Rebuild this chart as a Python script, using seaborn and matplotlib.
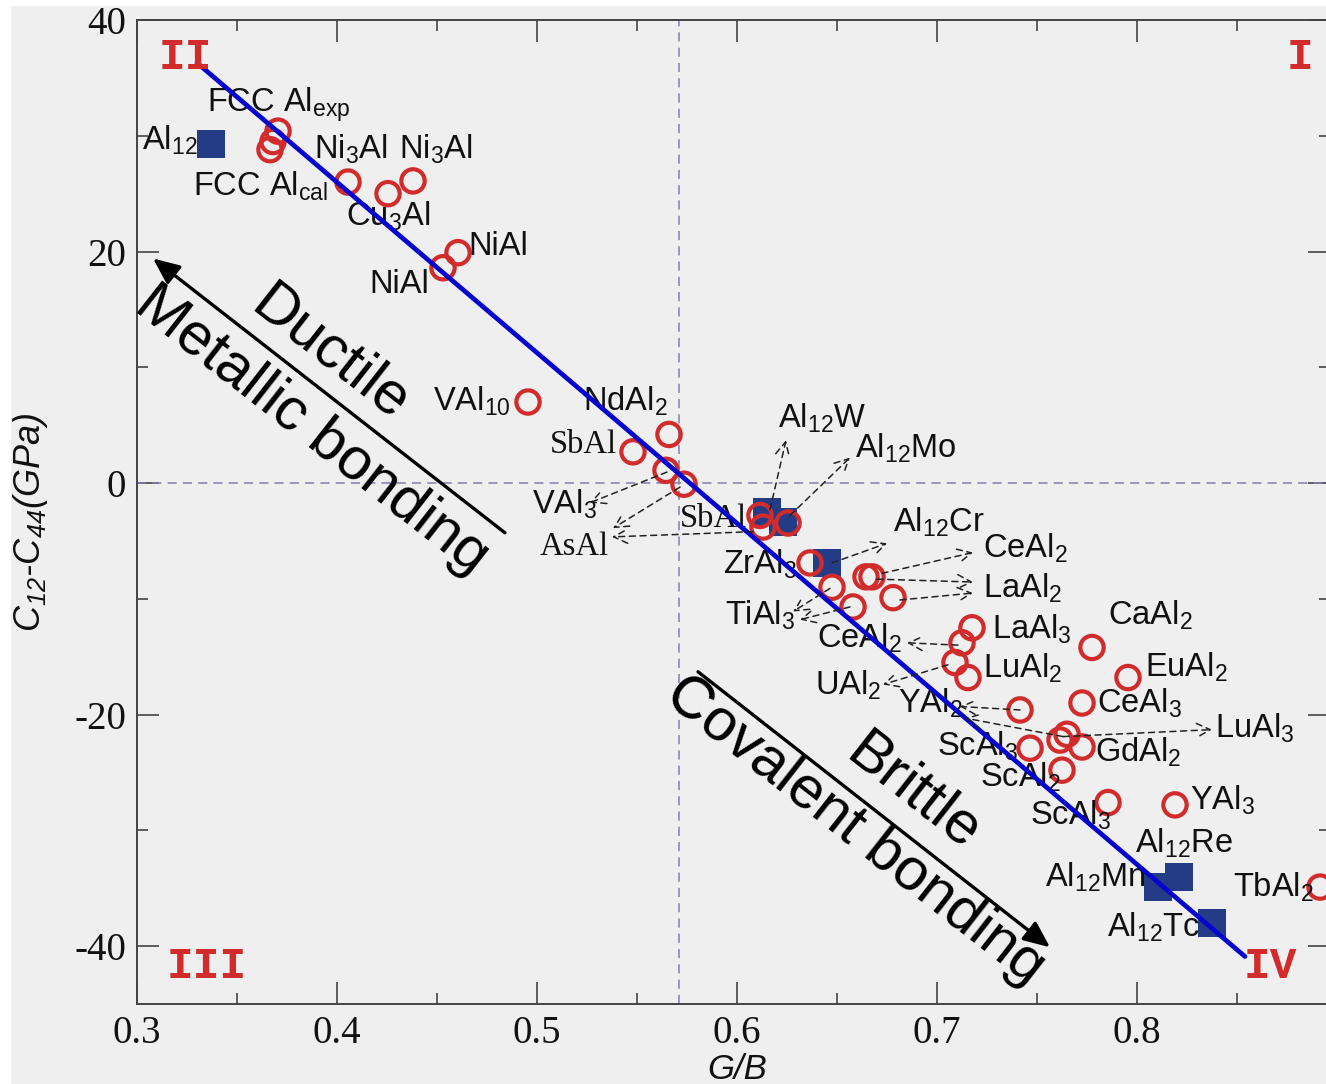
import matplotlib
matplotlib.use("Agg")
import matplotlib.pyplot as plt
import seaborn as sns
import pandas as pd
from matplotlib.ticker import MultipleLocator, FixedLocator
from matplotlib.patches import Rectangle

# ---------------- data ----------------
# red open circles (G/B, C12-C44)
circle_gb = [0.3705, 0.368, 0.3665, 0.4055, 0.4255, 0.438, 0.453, 0.4605,
             0.4955, 0.548, 0.566, 0.5645, 0.5735, 0.6115, 0.613, 0.6255,
             0.6365, 0.6475, 0.658, 0.6645, 0.6675, 0.678, 0.7175, 0.7125,
             0.709, 0.7155, 0.7775, 0.7955, 0.7725, 0.7415, 0.7465, 0.7615,
             0.765, 0.7725, 0.7625, 0.7855, 0.819, 0.8915]
circle_dc = [30.4, 29.5, 28.8, 26.0, 25.0, 26.1, 18.6, 19.9,
             7.0, 2.7, 4.2, 1.1, -0.1, -2.8, -3.8, -3.45,
             -6.9, -9.0, -10.7, -8.1, -8.1, -9.9, -12.5, -13.8,
             -15.5, -16.8, -14.2, -16.8, -19.0, -19.6, -22.9, -22.2,
             -21.7, -22.8, -24.8, -27.6, -27.8, -34.9]
# blue filled squares (Al12X compounds)
square_gb = [0.337, 0.615, 0.623, 0.645, 0.821, 0.8105, 0.8375]
square_dc = [29.25, -2.5, -3.4, -6.9, -34.0, -34.9, -38.0]
# trend line
trend_gb = [0.33, 0.854]
trend_dc = [36.3, -40.9]
# dividers
gb_divider = 0.571
dc_divider = 0.0
x_ticks = [0.3, 0.4, 0.5, 0.6, 0.7, 0.8]
x_ticklabels = ["0.3", "0.4", "0.5", "0.6", "0.7", "0.8"]
y_ticks = [-40, -20, 0, 20, 40]
y_ticklabels = ["-40", "-20", "0", "20", "40"]

# compound labels: (text, x, y, serif?)
labels = [
    ("FCC Al$_{exp}$", 0.335, 32.1, False),
    ("Al$_{12}$", 0.3025, 28.8, False),
    ("FCC Al$_{cal}$", 0.328, 24.85, False),
    ("Ni$_3$Al", 0.3885, 28.0, False),
    ("Ni$_3$Al", 0.431, 28.0, False),
    ("Cu$_3$Al", 0.4045, 22.2, False),
    ("NiAl", 0.4655, 19.7, False),
    ("NiAl", 0.416, 16.4, False),
    ("VAl$_{10}$", 0.448, 6.3, False),
    ("NdAl$_2$", 0.523, 6.3, False),
    ("SbAl", 0.5065, 2.6, True),
    ("VAl$_3$", 0.4975, -2.6, False),
    ("AsAl", 0.5015, -6.2, True),
    ("SbAl", 0.5715, -3.8, True),
    ("Al$_{12}$W", 0.6205, 4.8, False),
    ("Al$_{12}$Mo", 0.659, 2.2, False),
    ("Al$_{12}$Cr", 0.678, -4.2, False),
    ("CeAl$_2$", 0.723, -6.4, False),
    ("ZrAl$_3$", 0.593, -7.8, False),
    ("LaAl$_2$", 0.723, -9.9, False),
    ("TiAl$_3$", 0.594, -12.25, False),
    ("CeAl$_2$", 0.64, -14.2, False),
    ("LaAl$_3$", 0.7275, -13.4, False),
    ("LuAl$_2$", 0.723, -16.8, False),
    ("UAl$_2$", 0.639, -18.3, False),
    ("YAl$_2$", 0.6805, -19.8, False),
    ("CaAl$_2$", 0.7855, -12.25, False),
    ("EuAl$_2$", 0.804, -16.7, False),
    ("CeAl$_3$", 0.78, -19.8, False),
    ("LuAl$_3$", 0.839, -22.0, False),
    ("ScAl$_3$", 0.70, -23.5, False),
    ("GdAl$_2$", 0.779, -24.1, False),
    ("ScAl$_2$", 0.7215, -26.2, False),
    ("ScAl$_3$", 0.7465, -29.5, False),
    ("YAl$_3$", 0.8265, -28.2, False),
    ("Al$_{12}$Re", 0.799, -31.9, False),
    ("Al$_{12}$Mn", 0.754, -34.9, False),
    ("TbAl$_2$", 0.848, -35.7, False),
    ("Al$_{12}$Tc", 0.785, -39.2, False),
]

# dashed pointer arrows: (tail x, tail y, head x, head y)
pointers = [
    (0.6165, -2.3, 0.6245, 3.7),
    (0.6265, -2.8, 0.6565, 2.2),
    (0.565, 0.95, 0.5265, -1.7),
    (0.5715, -0.35, 0.538, -3.9),
    (0.608, -4.2, 0.5375, -4.65),
    (0.6475, -6.9, 0.675, -5.2),
    (0.6725, -7.8, 0.718, -6.0),
    (0.67, -8.3, 0.718, -8.55),
    (0.6815, -10.1, 0.718, -9.5),
    (0.6465, -9.1, 0.628, -11.1),
    (0.6565, -10.7, 0.6315, -11.8),
    (0.7105, -14.0, 0.685, -13.8),
    (0.7055, -15.7, 0.673, -17.4),
    (0.7415, -19.6, 0.7115, -19.3),
    (0.763, -21.9, 0.714, -20.3),
    (0.763, -21.9, 0.8375, -21.3),
]

# ---------------- style ----------------
sns.set_theme(style="ticks")
plt.rcParams["font.family"] = ["Liberation Sans", "DejaVu Sans"]
plt.rcParams["mathtext.default"] = "regular"
plt.rcParams["axes.unicode_minus"] = False

BG = "#efefef"
RED = "#d12b2b"
NAVY = "#243c86"
BLUE = "#0505cf"
DIV = "#8a7aaa"
INK = "#111111"

fig = plt.figure(figsize=(13.26, 10.84), dpi=100, facecolor=BG)
# white margins at the top and left of the scanned figure
fig.add_artist(Rectangle((0, 1 - 6 / 1084), 1, 6 / 1084, transform=fig.transFigure,
                         facecolor="white", edgecolor="none", zorder=0))
fig.add_artist(Rectangle((0, 0), 11 / 1326, 1, transform=fig.transFigure,
                         facecolor="white", edgecolor="none", zorder=0))

ax = fig.add_axes([137 / 1326, 80 / 1084, 1193 / 1326, 984 / 1084])
ax.set_facecolor(BG)

# dividers
ax.axhline(dc_divider, color=DIV, lw=1.1, ls=(0, (6, 4)), zorder=1)
ax.axvline(gb_divider, color=DIV, lw=1.1, ls=(0, (6, 4)), zorder=1)

sq = pd.DataFrame({"gb": square_gb, "dc": square_dc})
ci = pd.DataFrame({"gb": circle_gb, "dc": circle_dc})
tr = pd.DataFrame({"gb": trend_gb, "dc": trend_dc})

sns.scatterplot(data=sq, x="gb", y="dc", marker="s", s=19.5 ** 2,
                color=NAVY, edgecolor=NAVY, linewidth=0, ax=ax, zorder=2,
                legend=False)
sns.scatterplot(data=ci, x="gb", y="dc", marker="o", s=16.8 ** 2,
                facecolor="none", edgecolor=RED, linewidth=3.0, ax=ax,
                zorder=3, legend=False)
sns.lineplot(data=tr, x="gb", y="dc", color=BLUE, linewidth=3.4, sort=False,
             estimator=None, ax=ax, zorder=4)

# pointer arrows
for x0, y0, x1, y1 in pointers:
    ax.annotate("", xy=(x1, y1), xytext=(x0, y0),
                arrowprops=dict(arrowstyle="->,head_length=0.55,head_width=0.28",
                                ls=(0, (4, 3)), lw=1.1, color="#222222",
                                shrinkA=0, shrinkB=0, mutation_scale=18),
                zorder=5)

# compound labels
for txt, x, y, serif in labels:
    fam = ["Liberation Serif", "DejaVu Serif"] if serif else ["Liberation Sans", "DejaVu Sans"]
    ax.text(x, y, txt, fontsize=23.5, family=fam, ha="left", va="baseline",
            color=INK, zorder=3.5)

# quadrant labels
for txt, x, y in [("II", 0.324, 36.8), ("I", 0.8815, 36.8),
                  ("III", 0.335, -41.8), ("IV", 0.8665, -41.8)]:
    ax.text(x, y, txt, fontsize=32, family=["Liberation Mono", "DejaVu Sans Mono"],
            weight="bold", color=RED, ha="center", va="center", zorder=6)

# big arrows
big = dict(arrowstyle="-|>,head_length=0.8,head_width=0.35", lw=2.4,
           color="black", shrinkA=0, shrinkB=0, mutation_scale=20)
ax.annotate("", xy=(0.308, 19.4), xytext=(0.484, -4.3), arrowprops=big, zorder=5)
ax.annotate("", xy=(0.7565, -40.1), xytext=(0.5805, -16.3), arrowprops=big, zorder=5)
for txt, x, y in [("Ductile", 0.3965, 11.2), ("Metallic bonding", 0.3875, 4.6),
                  ("Brittle", 0.688, -26.7), ("Covalent bonding", 0.659, -30.0)]:
    ax.text(x, y, txt, fontsize=43, rotation=-38, rotation_mode="anchor",
            ha="center", va="center", color="black", zorder=5)

# axes
ax.set_xlim(0.3, 0.8965)
ax.set_ylim(-45, 40)
ax.xaxis.set_major_locator(FixedLocator(x_ticks))
ax.set_xticklabels(x_ticklabels)
ax.yaxis.set_major_locator(FixedLocator(y_ticks))
ax.set_yticklabels(y_ticklabels)
ax.xaxis.set_minor_locator(MultipleLocator(0.05))
ax.yaxis.set_minor_locator(MultipleLocator(10))
ax.tick_params(which="both", direction="in", top=True, right=True,
               color="#444444", width=1.2)
ax.tick_params(which="major", length=16, pad=8, labelsize=28,
               labelcolor=INK)
ax.tick_params(which="minor", length=8)
for lab in ax.get_xticklabels() + ax.get_yticklabels():
    lab.set_family(["Liberation Serif", "DejaVu Serif"])
for sp in ax.spines.values():
    sp.set_color("#444444")
    sp.set_linewidth(1.4)

ax.set_xlabel("G/B", fontsize=25, fontstyle="italic", va="baseline", color=INK)
ax.xaxis.set_label_coords(0.503, -0.0765)
ax.set_ylabel("$C_{12}$-$C_{44}$(GPa)", fontsize=26, fontstyle="italic", color=INK)
ax.yaxis.set_label_coords(-0.073, 0.49)

fig.savefig("out.png", dpi=100, facecolor=BG)
